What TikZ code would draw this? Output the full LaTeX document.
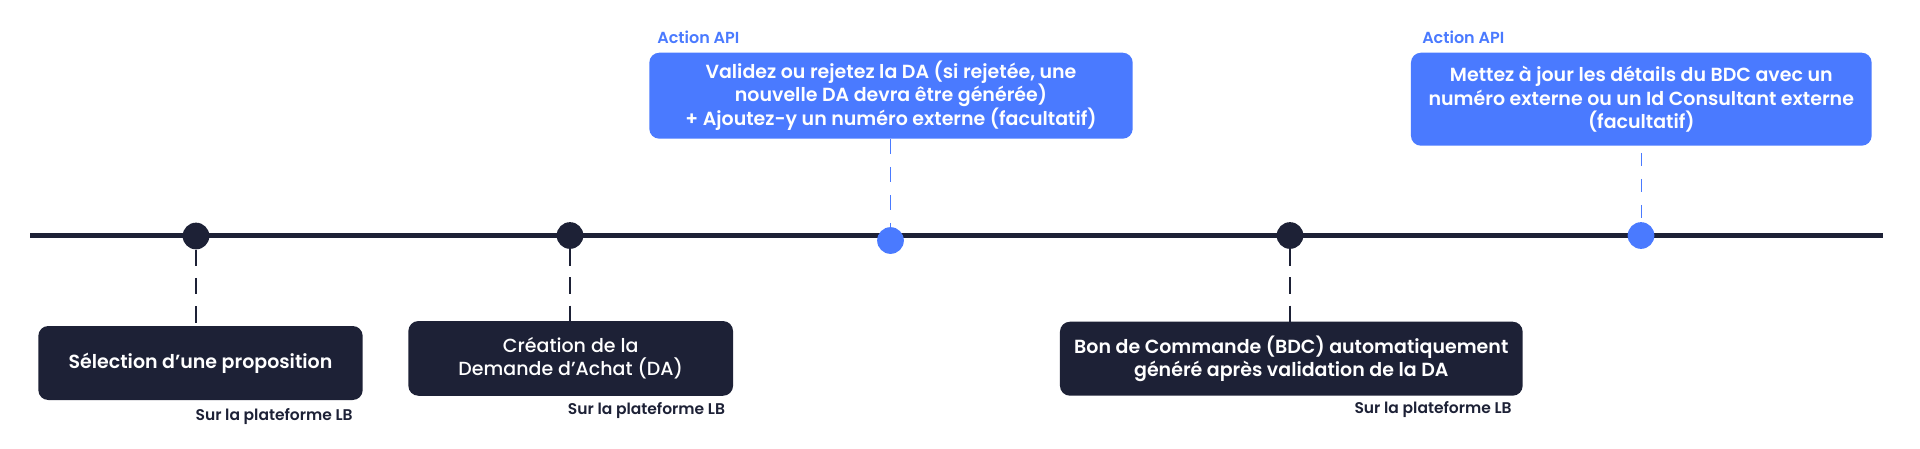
\documentclass[tikz,border=0pt]{standalone}
\usepackage{fontspec}
\setmainfont{Poppins}[UprightFont=* Medium, BoldFont=* SemiBold]
\usetikzlibrary{calc}
\definecolor{navy}{HTML}{1D2136}
\definecolor{apiblue}{HTML}{4A7AFF}
\tikzset{
  dot/.style={circle, inner sep=0pt, minimum size=26.7pt},
  lbbox/.style={fill=navy, rounded corners=10pt, text=white, align=center, inner sep=0pt,
    font=\fontsize{19}{23.3}\selectfont},
  apibox/.style={lbbox, fill=apiblue, font=\bfseries\fontsize{19}{23.3}\selectfont},
  apilabel/.style={anchor=base west, text=apiblue, inner sep=0pt, font=\bfseries\fontsize{16}{18}\selectfont},
  lblabel/.style={anchor=base east, text=navy, inner sep=0pt, font=\bfseries\fontsize{15.5}{17}\selectfont},
  lblink/.style={navy, line width=1.7pt, dash pattern=on 16.5pt off 11.8pt},
  apilink/.style={apiblue, line width=1.8pt, dash pattern=on 15pt off 13pt},
}

\begin{document}
\begin{tikzpicture}[x=1pt,y=-1pt]
%define stuff
\def\lineleft{30}
\def\lineright{1883}
\def\timeline{235.5}
%set bounding box
\useasboundingbox (0,0) rectangle (1920,448);
%Draw main time axis
\coordinate (tstart) at (\lineleft,\timeline);
\coordinate (tend) at (\lineright,\timeline);
\draw[navy, line width=4.5pt] (tstart) -- (tend);
\node[dot, fill=navy] (dot1) at (196,236) {};
\node[dot, fill=navy] (dot2) at (570,\timeline) {};
\node[dot, fill=apiblue] (dot3) at (890.5,240.5) {};
\node[dot, fill=navy] (dot4) at (1290,\timeline) {};
\node[dot, fill=apiblue] (dot5) at (1641,\timeline) {};
%Step 1
\node[lbbox, font=\bfseries\fontsize{19}{23.3}\selectfont, minimum width=324.4pt, minimum height=74pt] (box1)
	at (200.5,363) {Sélection d’une proposition};
\draw[lblink] (dot1.south) -- (dot1.south |- box1.north);
\node[lblabel] (lb1) at ($(box1.south east)+(-10,20)$) {Sur la plateforme LB};
%Step 2
\node[lbbox, minimum width=324.7pt, minimum height=74.7pt] (box2)
	at (570.7,358.4) {Création de la\\Demande d’Achat (DA)};
\draw[lblink] (dot2.south) -- (dot2.south |- box2.north);
\node[lblabel] (lb2) at ($(box2.south east)+(-8,18.5)$) {Sur la plateforme LB};
%Step 3
\node[apibox, minimum width=483.4pt, minimum height=86pt] (api1)
	at (891,95.7) {Validez ou rejetez la DA (si rejetée, une\\nouvelle DA devra être générée)\\+ Ajoutez-y un numéro externe (facultatif)};
\node[apilabel] (apil1) at ($(api1.north west)+(8,-8.7)$) {Action API};
\draw[apilink] (api1.south -| dot3) -- (dot3.north);
%Step 4
\node[lbbox, font=\bfseries\fontsize{19}{23.3}\selectfont, minimum width=462.7pt, minimum height=74pt] (box3)
	at (1291.3,358.7) {Bon de Commande (BDC) automatiquement\\généré après validation de la DA};
\draw[lblink] (dot4.south) -- (dot4.south |- box3.north);
\node[lblabel] (lb3) at ($(box3.south east)+(-11,17.5)$) {Sur la plateforme LB};
%Step 5
\node[apibox, minimum width=460.7pt, minimum height=93pt] (api2)
	at (1641.3,99.2) {Mettez à jour les détails du BDC avec un\\numéro externe ou un Id Consultant externe\\(facultatif)};
\node[apilabel] (apil2) at ($(api2.north west)+(11.3,-8.7)$) {Action API};
\draw[apiblue, line width=1pt, dash pattern=on 13pt off 13pt, shorten <=7pt, shorten >=2pt]
	(api2.south -| dot5) -- (dot5.north);

\end{tikzpicture}
\end{document}
